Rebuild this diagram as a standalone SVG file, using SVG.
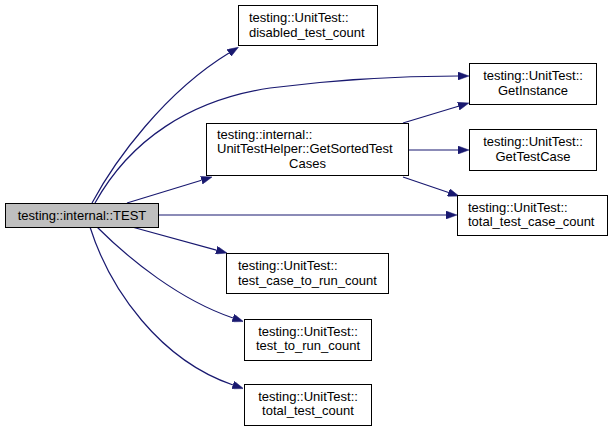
<svg xmlns="http://www.w3.org/2000/svg" width="613" height="431" viewBox="0 0 613 431">
<defs>
<style>
.box{fill:#ffffff;stroke:#000000;stroke-width:1}
.root{fill:#bfbfbf;stroke:#000000;stroke-width:1}
text{font-family:"Liberation Sans",Arial,sans-serif;font-size:13px;fill:#000000}
.c{text-anchor:middle}
.e{fill:none;stroke:#191970;stroke-width:1.2}
</style>
<marker id="arr" markerUnits="userSpaceOnUse" markerWidth="11" markerHeight="8" refX="0" refY="4" orient="auto">
<path d="M0,0 L11,4 L0,8 z" fill="#191970" stroke="#191970" stroke-width="0.5"/>
</marker>
</defs>
<rect width="613" height="431" fill="#ffffff"/>
<g id="edges">
<path class="e" marker-end="url(#arr)" d="M92,203 C115,160 165,92 229,53"/>
<path class="e" marker-end="url(#arr)" d="M95,203 C130,140 190,100 270,88 C340,79 400,76 458,76"/>
<path class="e" marker-end="url(#arr)" d="M127,203 L201.5,180.2"/>
<path class="e" marker-end="url(#arr)" d="M158,215 L446,215"/>
<path class="e" marker-end="url(#arr)" d="M132,227 L216.4,250.1"/>
<path class="e" marker-end="url(#arr)" d="M97,227 C130,260 180,300 233,318"/>
<path class="e" marker-end="url(#arr)" d="M90,227 C110,290 160,360 233,385"/>
<path class="e" marker-end="url(#arr)" d="M403,123 L458.4,106.2"/>
<path class="e" marker-end="url(#arr)" d="M408,150 L458,150"/>
<path class="e" marker-end="url(#arr)" d="M403,177 L448.5,192.5"/>
</g>
<g id="node_test">
<rect class="root" x="5.5" y="203.5" width="153" height="24"/>
<text class="c" x="82" y="219.5">testing::internal::TEST</text>
</g>
<g id="node_disabled_test_count">
<rect class="box" x="238.5" y="5.5" width="139" height="40"/>
<text x="249" y="21.5">testing::UnitTest::</text>
<text x="249" y="36.5">disabled_test_count</text>
</g>
<g id="node_get_sorted_test_cases">
<rect class="box" x="206.5" y="123.5" width="202" height="52"/>
<text x="217" y="138.5">testing::internal::</text>
<text x="217" y="153">UnitTestHelper::GetSortedTest</text>
<text class="c" x="307.5" y="167.5">Cases</text>
</g>
<g id="node_get_instance">
<rect class="box" x="469.5" y="63.5" width="127" height="41"/>
<text class="c" x="533" y="79.5">testing::UnitTest::</text>
<text class="c" x="533" y="94.5">GetInstance</text>
</g>
<g id="node_get_test_case">
<rect class="box" x="469.5" y="129.5" width="127" height="41"/>
<text class="c" x="533" y="145.5">testing::UnitTest::</text>
<text class="c" x="533" y="160.5">GetTestCase</text>
</g>
<g id="node_total_test_case_count">
<rect class="box" x="457.5" y="195.5" width="150" height="40"/>
<text x="468" y="211.5">testing::UnitTest::</text>
<text x="468" y="226">total_test_case_count</text>
</g>
<g id="node_test_case_to_run_count">
<rect class="box" x="226.5" y="253.5" width="162" height="40"/>
<text x="238" y="269.5">testing::UnitTest::</text>
<text x="238" y="284.5">test_case_to_run_count</text>
</g>
<g id="node_test_to_run_count">
<rect class="box" x="244.5" y="319.5" width="127" height="41"/>
<text class="c" x="308" y="335.5">testing::UnitTest::</text>
<text class="c" x="308" y="350">test_to_run_count</text>
</g>
<g id="node_total_test_count">
<rect class="box" x="244.5" y="384.5" width="127" height="41"/>
<text class="c" x="308" y="400.5">testing::UnitTest::</text>
<text class="c" x="308" y="415">total_test_count</text>
</g>
</svg>
